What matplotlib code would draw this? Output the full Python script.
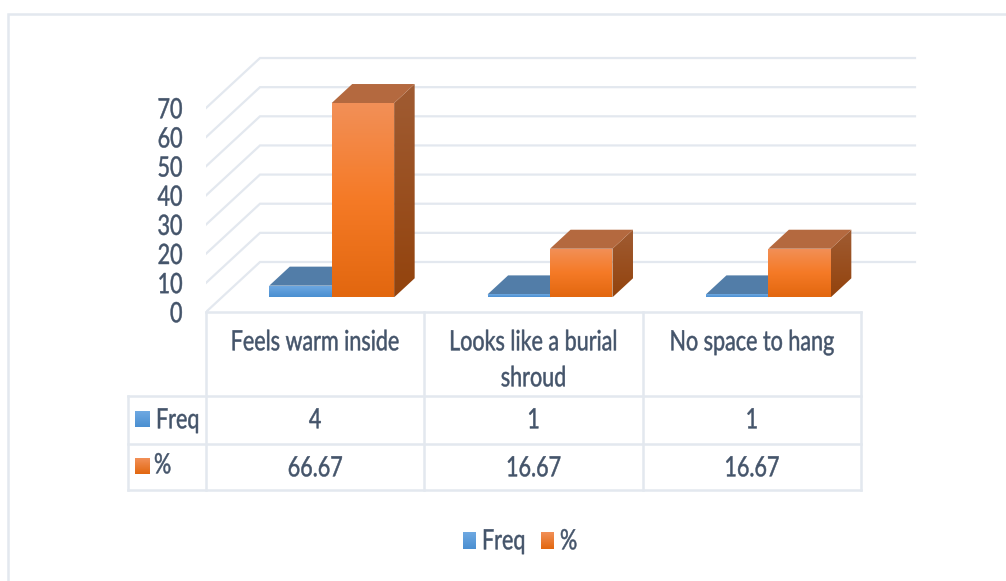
import matplotlib
matplotlib.use("Agg")
import matplotlib.pyplot as plt
import numpy as np
from matplotlib.patches import Polygon
from matplotlib.patheffects import AbstractPathEffect
from matplotlib.transforms import Affine2D
from matplotlib.colors import LinearSegmentedColormap

categories = ["Feels warm inside", "Looks like a burial\nshroud", "No space to hang"]
freq = [4, 1, 1]
percent = [66.67, 16.67, 16.67]
freq_labels = ["4", "1", "1"]
percent_labels = ["66.67", "16.67", "16.67"]
y_ticks = [0, 10, 20, 30, 40, 50, 60, 70]

W, H = 1006, 581
LINE = "#E3E8EF"
TEXT = "#44546A"
FONT = ["Lato", "DejaVu Sans"]
FS = 15.5

# oblique depth of the floor, in pixels
DEPTH_X, DEPTH_Y = 54, 50
PX_PER_CAT = 218.33
PX_PER_UNIT = 2.914

# bar footprint: fractions of a category width and of the floor depth
BAR_START, BAR_WIDTH = 0.217, 0.286
D0, D1 = 0.294, 0.674

blue = {"front": ["#6FA9E2", "#4A8FD1"], "top": "#527DA8", "side": "#3F6E9C"}
orange = {"front": ["#F29058", "#F57A26", "#E2670F"], "top": "#B4693F", "side": ["#A05C33", "#93430D"]}


class TallGlyphs(AbstractPathEffect):
    # stretches glyphs vertically about the middle of the cap height, with a thin
    # outline to add weight; shift moves them down in glyph units
    def __init__(self, sy, shift=0):
        super().__init__()
        self.sy = sy
        self.shift = shift

    def draw_path(self, renderer, gc, tpath, affine, rgbFace=None):
        stretch = Affine2D().translate(0, -36).scale(1, self.sy).translate(0, 36 - self.shift)
        gc0 = renderer.new_gc()
        gc0.copy_properties(gc)
        gc0.set_linewidth(0.35)
        gc0.set_foreground(rgbFace)
        renderer.draw_path(gc0, tpath, stretch + affine, rgbFace)
        gc0.restore()


tall = [TallGlyphs(1.3)]
tall_ticks = [TallGlyphs(1.3, shift=9)]


def project(x, v, d):
    # category/value/depth to the oblique plane drawn in plot_ax
    return x + d * DEPTH_X / PX_PER_CAT, v + d * DEPTH_Y / PX_PER_UNIT


def gradient_poly(ax, pts, colors, zorder, flip=False):
    pts = np.array(pts)
    cmap = LinearSegmentedColormap.from_list("g", colors)
    x0, x1 = pts[:, 0].min(), pts[:, 0].max()
    y0, y1 = pts[:, 1].min(), pts[:, 1].max()
    extent = (x0, x1, y1, y0) if flip else (x0, x1, y0, y1)
    im = ax.imshow(np.linspace(0, 1, 256).reshape(-1, 1), cmap=cmap, aspect="auto",
                   extent=extent, origin="upper", zorder=zorder, interpolation="bilinear")
    patch = Polygon(pts, closed=True, transform=ax.transData, fc="none", ec="none")
    ax.add_patch(patch)
    im.set_clip_path(patch)


def draw_bar(ax, x0, width, value, style, zorder):
    x1 = x0 + width
    a = project(x0, value, D0)
    b = project(x1, value, D0)
    c = project(x1, value, D1)
    d = project(x0, value, D1)
    a0 = project(x0, 0, D0)
    b0 = project(x1, 0, D0)
    c0 = project(x1, 0, D1)
    gradient_poly(ax, [a0, b0, b, a], style["front"], zorder + 0.2)
    side = style["side"]
    if isinstance(side, str):
        ax.add_patch(Polygon([b0, c0, c, b], fc=side, ec="none", zorder=zorder))
    else:
        gradient_poly(ax, [b0, c0, c, b], side, zorder)
    ax.add_patch(Polygon([a, b, c, d], fc=style["top"], ec="none", zorder=zorder + 0.1))


fig = plt.figure(figsize=(W / 100, H / 100), dpi=100, facecolor="white")

# full figure axes in pixels for the frame, table and legend
page = fig.add_axes([0, 0, 1, 1])
page.set_xlim(0, W)
page.set_ylim(H, 0)
page.set_autoscale_on(False)
page.axis("off")

# plot axes: x in categories, y in chart units, origin on the table's top edge
# the limits run past the last tick and category so the depth offsets stay inside
x_max, y_max = 3.5, 90
left, y_zero = 206, 312
plot_w = x_max * PX_PER_CAT
plot_h = y_max * PX_PER_UNIT
plot_ax = fig.add_axes([left / W, 1 - y_zero / H, plot_w / W, plot_h / H])
plot_ax.set_xlim(0, x_max)
plot_ax.set_ylim(0, y_max)
plot_ax.set_autoscale_on(False)
plot_ax.patch.set_alpha(0)
for s in plot_ax.spines.values():
    s.set_visible(False)
plot_ax.set_xticks([])
plot_ax.set_yticks(y_ticks)
plot_ax.tick_params(axis="y", length=0, pad=17, labelcolor=TEXT, labelsize=FS)
for lab in plot_ax.get_yticklabels():
    lab.set_fontfamily(FONT)
    lab.set_verticalalignment("center")
    lab.set_path_effects(tall_ticks)

# wall gridlines and their diagonals on the side wall
for t in y_ticks:
    p0 = project(0, t, 0)
    p1 = project(0, t, 1)
    p2 = project(3, t, 1)
    plot_ax.plot([p0[0], p1[0], p2[0]], [p0[1], p1[1], p2[1]], color=LINE, lw=1.6,
                 zorder=1, solid_joinstyle="miter")

for i in range(len(categories)):
    x0 = i + BAR_START
    draw_bar(plot_ax, x0, BAR_WIDTH, freq[i], blue, 2)
    draw_bar(plot_ax, x0 + BAR_WIDTH, BAR_WIDTH, percent[i], orange, 3)

# outer frame
page.plot([8, 8, W], [H, 14, 14], color=LINE, lw=1.8, solid_joinstyle="miter")

# data table
col_x = [206, 424.3, 642.7, 861]
row_y = [312, 396, 444, 490]
key_x = 128
page.plot([col_x[0], col_x[-1]], [row_y[0], row_y[0]], color=LINE, lw=1.8)
for y in row_y[1:]:
    page.plot([key_x, col_x[-1]], [y, y], color=LINE, lw=1.8)
for x in col_x:
    page.plot([x, x], [row_y[0], row_y[-1]], color=LINE, lw=1.8)
page.plot([key_x, key_x], [row_y[1], row_y[-1]], color=LINE, lw=1.8)

text_kw = dict(color=TEXT, fontsize=FS, family=FONT, path_effects=tall)
for i, cat in enumerate(categories):
    cx = (col_x[i] + col_x[i + 1]) / 2
    page.text(cx, 332, cat, ha="center", va="top", linespacing=2.0, **text_kw)
    page.text(cx, 420, freq_labels[i], ha="center", va="center", **text_kw)
    page.text(cx, 468, percent_labels[i], ha="center", va="center", **text_kw)

blue_key = ["#6FA9E2", "#4A8FD1"]
orange_key = ["#F29058", "#E2670F"]
gradient_poly(page, [(135, 411), (150, 411), (150, 427), (135, 427)], blue_key, 3, flip=True)
gradient_poly(page, [(135, 458), (150, 458), (150, 474), (135, 474)], orange_key, 3, flip=True)
page.text(156, 420, "Freq", ha="left", va="center", **text_kw)
page.text(154, 465, "%", ha="left", va="center", **text_kw)

# legend
gradient_poly(page, [(463, 532), (476, 532), (476, 549), (463, 549)], blue_key, 3, flip=True)
gradient_poly(page, [(541, 532), (554, 532), (554, 549), (541, 549)], orange_key, 3, flip=True)
page.text(482, 541, "Freq", ha="left", va="center", **text_kw)
page.text(560, 541, "%", ha="left", va="center", **text_kw)

fig.savefig("out.png", dpi=100, facecolor="white")
